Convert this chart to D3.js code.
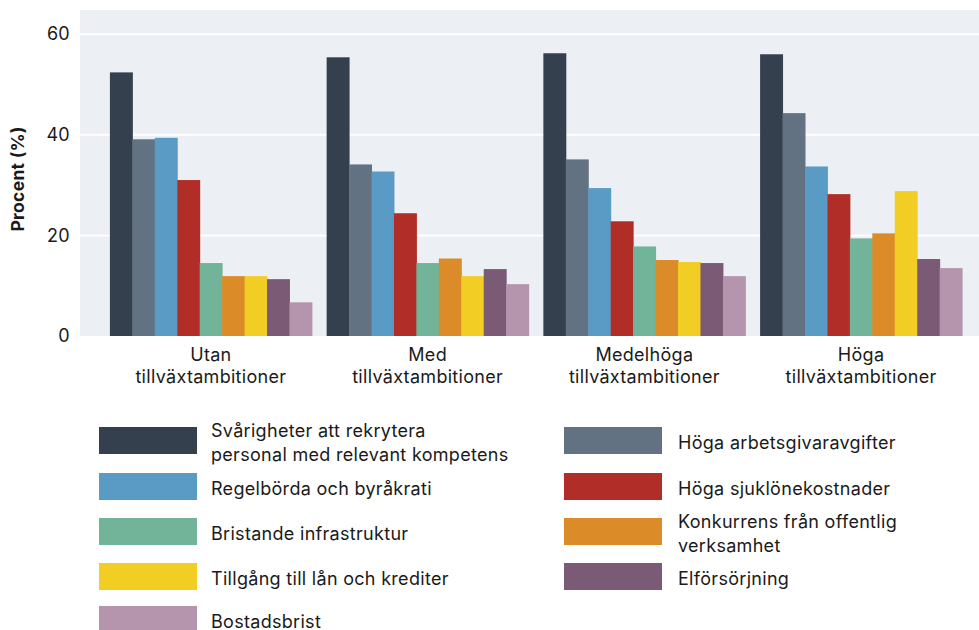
<!DOCTYPE html>
<html><head><meta charset="utf-8">
<script src="https://cdn.jsdelivr.net/npm/d3@7"></script>
<style>body{margin:0;background:#fff}svg{display:block}text{font-family:Inter,"Noto Sans",sans-serif;fill:#1a1a1a;letter-spacing:0.3px}</style>
</head><body><svg id="c" width="979" height="630"></svg>
<script>
const categories = [["Utan","tillväxtambitioner"],["Med","tillväxtambitioner"],["Medelhöga","tillväxtambitioner"],["Höga","tillväxtambitioner"]];
const seriesNames = [
  ["Svårigheter att rekrytera","personal med relevant kompetens"],
  ["Höga arbetsgivaravgifter"],
  ["Regelbörda och byråkrati"],
  ["Höga sjuklönekostnader"],
  ["Bristande infrastruktur"],
  ["Konkurrens från offentlig","verksamhet"],
  ["Tillgång till lån och krediter"],
  ["Elförsörjning"],
  ["Bostadsbrist"]
];
const colors = ["#34404d","#627282","#5a9bc6","#b02e27","#71b499","#db8b27","#f2cd23","#7b5a76","#b594ad"];
// values[series][category]
const svarigheter = [52.4,55.4,56.2,56.0];
const arbetsgivar = [39.1,34.1,35.1,44.3];
const regelborda  = [39.4,32.7,29.4,33.7];
const sjuklon     = [31.0,24.4,22.8,28.2];
const infra       = [14.5,14.5,17.8,19.4];
const konkurrens  = [11.9,15.4,15.1,20.4];
const lan         = [11.9,11.9,14.7,28.8];
const elforsorj   = [11.3,13.3,14.5,15.3];
const bostad      = [6.7,10.3,11.9,13.5];
const values = [svarigheter,arbetsgivar,regelborda,sjuklon,infra,konkurrens,lan,elforsorj,bostad];
const yTicks = [0,20,40,60];

(function(){
const svg = d3.select("#c");
const pL=80, pR=992, pT=10, pB=336;
const x0 = d3.scaleBand().domain(d3.range(categories.length)).range([pL,pR]).paddingInner(0.068).paddingOuter(0.138);
const x1 = d3.scaleBand().domain(d3.range(values.length)).range([0,x0.bandwidth()]);
const y = d3.scaleLinear().domain([0,64.8]).range([pB,pT]);

svg.append("rect").attr("x",pL).attr("y",pT).attr("width",pR-pL).attr("height",pB-pT).attr("fill","#eceff4");
svg.append("g").selectAll("line").data(yTicks.filter(d=>d>0)).join("line")
  .attr("x1",pL).attr("x2",pR).attr("y1",d=>y(d)).attr("y2",d=>y(d))
  .attr("stroke","#fff").attr("stroke-width",2);

const gy = svg.append("g").attr("transform",`translate(${pL},0)`)
  .call(d3.axisLeft(y).tickValues(yTicks).tickSize(0).tickPadding(10));
gy.select(".domain").remove();
gy.selectAll("text").style("font-size","18px").style("font-family","Inter,sans-serif").attr("fill","#1a1a1a");

svg.append("text").attr("transform","translate(24,179) rotate(-90)").attr("text-anchor","middle")
  .style("font-size","17.5px").style("font-weight","700").text("Procent (%)");

const groups = svg.append("g").selectAll("g").data(categories).join("g")
  .attr("transform",(d,i)=>`translate(${x0(i)},0)`);
groups.selectAll("rect").data((d,i)=>values.map((s,k)=>({k,v:s[i]}))).join("rect")
  .attr("x",d=>x1(d.k)).attr("width",x1.bandwidth()+0.5)
  .attr("y",d=>y(d.v)).attr("height",d=>y(0)-y(d.v)).attr("fill",d=>colors[d.k]);

const gx = svg.append("g");
categories.forEach((c,i)=>{
  const t = gx.append("text").attr("text-anchor","middle").style("font-size","18px");
  c.forEach((line,j)=>t.append("tspan").attr("x",x0(i)+x0.bandwidth()/2).attr("y",361+j*22).text(line));
});

// legend
const legendOrder = [[0,2,4,6,8],[1,3,5,7]];
const colX = [[99,211],[564,678]];
const rowY = [427,473,518,563,606];
legendOrder.forEach((col,ci)=>{
  col.forEach((s,ri)=>{
    const g = svg.append("g");
    g.append("rect").attr("x",colX[ci][0]).attr("y",rowY[ri]).attr("width",98).attr("height",27).attr("fill",colors[s]);
    const lines = seriesNames[s];
    const cy = rowY[ri]+13.5;
    const t = g.append("text").style("font-size","18px");
    const base = lines.length===1 ? cy+8 : cy-4;
    lines.forEach((ln,j)=>t.append("tspan").attr("x",colX[ci][1]).attr("y",base+j*24).text(ln));
  });
});
})();
</script></body></html>
